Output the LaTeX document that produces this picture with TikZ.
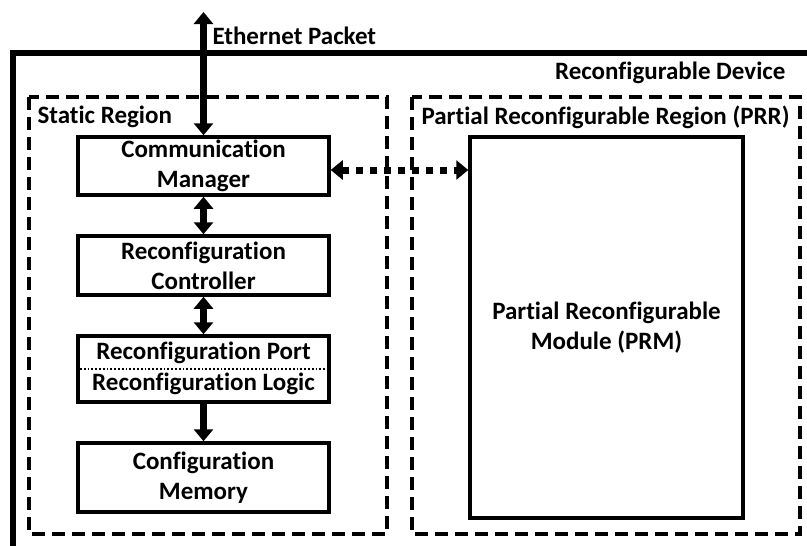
\documentclass[tikz,border=0pt]{standalone}
\usepackage{fontspec}
\setmainfont{Carlito}[Ligatures=NoCommon]
\usetikzlibrary{calc, positioning, arrows.meta}
\tikzset{
    block/.style={draw, line width=3.5pt, minimum width=251pt, align=center, inner sep=0pt},
    region/.style={draw, line width=3.5pt, dash pattern=on 13pt off 7pt},
    big tip/.tip={Triangle[width=19pt,length=12pt]},
    link/.style={line width=6.5pt, big tip-big tip},
    down link/.style={line width=6.5pt, -big tip},
    dotted link/.style={line width=7pt, dash pattern=on 7pt off 7pt, big tip-big tip},
}

\begin{document}
\begin{tikzpicture}[x=1pt, y=-1pt, font=\fontsize{25}{30}\selectfont\bfseries]

\useasboundingbox (0,0) rectangle (807,546);
\clip (0,0) rectangle (807,546);

% device and regions
\draw[line width=6pt] (13,53) rectangle (840,580);
\draw[region] (29,97) rectangle (387,534);
\draw[region] (412,97) rectangle (800,534);

\node[anchor=east] (devlabel) at (789,73) {Reconfigurable Device};
\node[anchor=west] (staticlabel) at (34,117) {Static Region};
\node[anchor=west] (prrlabel) at (418,117) {Partial Reconfigurable Region (PRR)};

% static region blocks
\node[block, minimum height=58pt] (commmgr) at (203.5,166) {Communication\\Manager};
\node[block, minimum height=59pt] (reconfctrl) at (203.5,265.5) {Reconfiguration\\Controller};
\node[block, minimum height=66pt] (reconfport) at (203.5,369) {};
\node (portlabel) at (203.5,353) {Reconfiguration Port};
\node (logiclabel) at (203.5,384) {Reconfiguration Logic};
\draw[line width=1.8pt, dotted] (reconfport.west) -- (reconfport.east);
\node[block, minimum height=69pt] (cfgmem) at (203.5,477.5) {Configuration\\Memory};

% partial reconfigurable module
\node[block, minimum width=273pt, minimum height=381pt] (prm) at (606.5,327.5) {Partial Reconfigurable\\Module (PRM)};

% connections
\coordinate (ethtop) at (203.5,12);
\node[anchor=west] (ethlabel) at (209,36) {Ethernet Packet};
\draw[link] (ethtop) -- (commmgr.north);
\draw[link] (commmgr) -- (reconfctrl);
\draw[link] (reconfctrl) -- (reconfport);
\draw[down link] (reconfport) -- (cfgmem);
\draw[dotted link] ($(commmgr.east)+(0,4)$) -- ($(prm.west |- commmgr.east)+(0,4)$);

\end{tikzpicture}
\end{document}
